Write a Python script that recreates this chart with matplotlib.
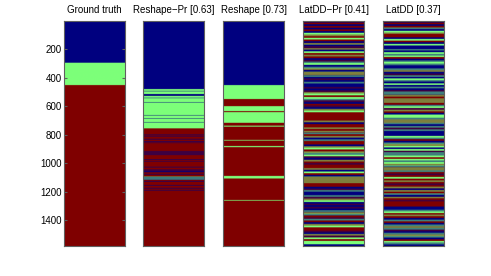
import numpy as np
import matplotlib
matplotlib.use('Agg')
import matplotlib.pyplot as plt

plt.rcParams['font.family'] = ['Liberation Sans', 'DejaVu Sans']

n_rows = 1580
titles = ['Ground truth', 'Reshape\u2212Pr [0.63]', 'Reshape [0.73]',
          'LatDD\u2212Pr [0.41]', 'LatDD [0.37]']
y_ticks = [200, 400, 600, 800, 1000, 1200, 1400]

# class labels: 0 = blue, 1 = green, 2 = red
gt_starts = [0, 293, 450]
gt_labels = [0, 1, 2]

reshape_pr_starts = [0, 478, 491, 494, 513, 526, 539, 542,
                     570, 573, 661, 664, 683, 686, 710, 713,
                     754, 798, 802, 808, 811, 828, 832, 844,
                     848, 854, 857, 914, 917, 920, 923, 926,
                     929, 932, 935, 938, 941, 972, 976, 984,
                     987, 1024, 1028, 1044, 1050, 1054, 1062, 1074,
                     1078, 1092, 1095, 1098, 1101, 1104, 1107, 1110,
                     1113, 1116, 1124, 1128, 1152, 1156, 1172, 1176,
                     1186, 1190]
reshape_pr_labels = [0, 1, 0, 1, 0, 1, 0, 1,
                     0, 1, 0, 1, 0, 1, 0, 1,
                     2, 0, 2, 0, 2, 0, 2, 0,
                     2, 0, 2, 0, 2, 0, 2, 0,
                     2, 0, 2, 0, 2, 0, 2, 0,
                     2, 0, 2, 0, 2, 0, 2, 0,
                     2, 1, 0, 1, 0, 1, 0, 1,
                     0, 2, 0, 2, 0, 2, 0, 2,
                     0, 2]

reshape_starts = [0, 450, 548, 598, 633, 640, 715, 735, 742, 835, 840, 878,
                  886, 1088, 1106, 1257, 1262]
reshape_labels = [0, 1, 2, 1, 2, 1, 2, 1, 2, 1, 2, 1,
                  2, 1, 2, 1, 2]

# dense panels read bin by bin from top to bottom
# b/g/r = one class, p = blue+red, o = green+red, t = blue+green
latdd_pr_codes = ('brbrbrbgor' 'grbobpobgr' 'orbptgbtob' 'ootbpbtbbp'
                  'bpogrgtpbr' 'pbogrrrrro' 'brrorotrob' 'trrbogrotg'
                  'pborprrobg' 'rboooorrbp' 'tbbtpogbpb' 'pbtotrptrb'
                  'ogrrpbopgrggb')
latdd_codes = ('brbrtbgorr' 'bgrbgbbtbg' 'tgrbtgtbbt' 'obptbgtbgb'
               'tbpttorooo' 'rtgporbggt' 'ootbtptbbb' 'gtrbtogbgp'
               'ttgrgtgoto' 'otrprgrorp' 'robortborp' 'rrrbbtgror'
               'btrbtotpbt' 'otbrgtb')

single = {'b': 0, 'g': 1, 'r': 2}
mixed = {'p': (0, 2), 'o': (1, 2), 't': (0, 1)}


def from_runs(starts, labels):
    col = np.zeros(n_rows)
    bounds = list(starts) + [n_rows]
    for i, lab in enumerate(labels):
        col[bounds[i]:bounds[i + 1]] = lab
    return col


def from_codes(codes):
    col = np.zeros(n_rows)
    edges = np.linspace(0, n_rows, len(codes) + 1).astype(int)
    for i, c in enumerate(codes):
        a, b = edges[i], edges[i + 1]
        if c in single:
            col[a:b] = single[c]
        else:
            pair = mixed[c]
            for k in range(a, b):
                col[k] = pair[(k // 2) % 2]
    return col


columns = [from_runs(gt_starts, gt_labels),
           from_runs(reshape_pr_starts, reshape_pr_labels),
           from_runs(reshape_starts, reshape_labels),
           from_codes(latdd_pr_codes),
           from_codes(latdd_codes)]

fig = plt.figure(figsize=(4.91, 2.76), dpi=100)
lefts = [64, 143.3, 223.3, 303.3, 383.3]
for i, col in enumerate(columns):
    ax = fig.add_axes([lefts[i] / 491, 0.11, 61 / 491, 0.8137])
    img = np.repeat(col[:, None], 8, axis=1)
    ax.imshow(img, cmap='jet', vmin=0, vmax=2, aspect='auto',
              extent=[0.5, 8.5, n_rows + 0.5, 0.5],
              interpolation='antialiased', interpolation_stage='rgba')
    ax.set_xticks([])
    ax.set_title(titles[i], fontsize=7, pad=5.5)
    for s in ax.spines.values():
        s.set_color('#606060')
        s.set_linewidth(0.8)
    if i == 0:
        ax.set_yticks(y_ticks)
        ax.tick_params(axis='y', direction='in', length=2, pad=1.5,
                       labelsize=7, right=True, color='#606060')
    else:
        ax.set_yticks([])

fig.savefig('out.png', dpi=100)
